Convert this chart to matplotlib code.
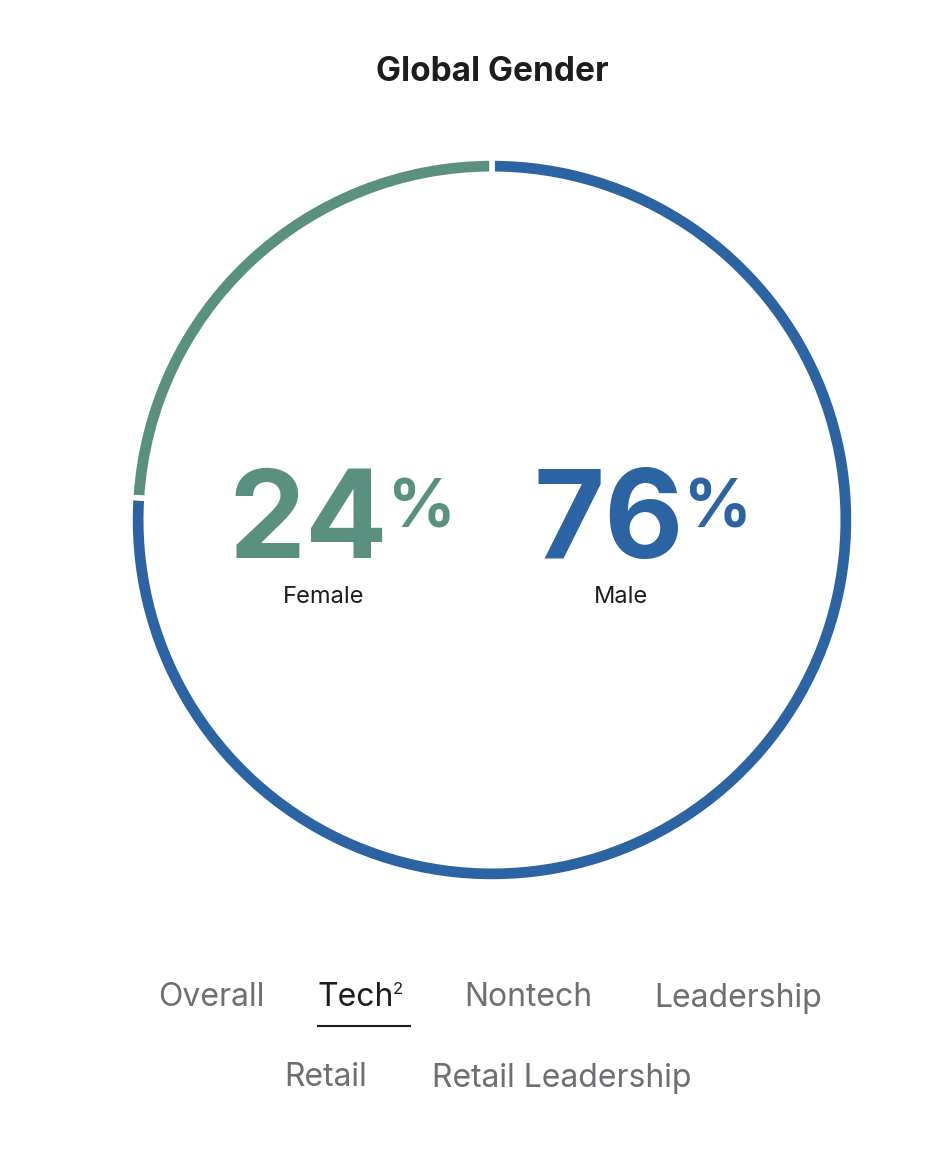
import matplotlib.pyplot as plt

W, H = 948, 1160
labels = ['Male', 'Female']
values = [76, 24]
colors = ['#2c64a3', '#5a9080']
tabs_row1 = ['Overall', 'Tech', 'Nontech', 'Leadership']
tabs_row2 = ['Retail', 'Retail Leadership']

plt.rcParams['font.family'] = ['Inter', 'DejaVu Sans']
fig = plt.figure(figsize=(W / 100, H / 100), dpi=100)

def px(x, y):
    return x / W, 1 - y / H

# ring
cx, cy, r = 492, 520, 362
ax = fig.add_axes([(cx - r) / W, (H - cy - r) / H, 2 * r / W, 2 * r / H])
ax.pie(values, colors=colors, startangle=90, counterclock=False, radius=1,
       wedgeprops=dict(width=0.045, edgecolor='white', linewidth=4))
ax.set_xlim(-1, 1)
ax.set_ylim(-1, 1)
ax.set_aspect('auto')
ax.axis('off')

fig.text(*px(492, 72), 'Global Gender', ha='center', va='center',
         fontsize=24, fontweight='bold', color='#1d1d1f')

# big numbers
fig.text(*px(388, 558), f'{values[1]}', ha='right', va='baseline',
         fontsize=88, fontweight='bold', color=colors[1])
fig.text(*px(388, 527), '%', ha='left', va='baseline',
         fontsize=48, fontweight='bold', color=colors[1])
fig.text(*px(684, 558), f'{values[0]}', ha='right', va='baseline',
         fontsize=88, fontweight='bold', color=colors[0])
fig.text(*px(684, 527), '%', ha='left', va='baseline',
         fontsize=48, fontweight='bold', color=colors[0])
fig.text(*px(324, 597), labels[1], ha='center', va='center', fontsize=17, color='#1d1d1f')
fig.text(*px(621, 597), labels[0], ha='center', va='center', fontsize=17, color='#1d1d1f')

# tabs
row1_x = [211, 356, 528, 738]
for name, x in zip(tabs_row1, row1_x):
    c = '#1d1d1f' if name == 'Tech' else '#6e6e73'
    fig.text(*px(x, 998), name, ha='center', va='center', fontsize=23, color=c)
fig.text(*px(393, 990), '2', ha='left', va='center', fontsize=12, color='#1d1d1f')
fig.add_artist(plt.Line2D([318 / W, 410 / W], [1 - 1026 / H] * 2, color='#1d1d1f', lw=1.5))
row2_x = [326, 562]
for name, x in zip(tabs_row2, row2_x):
    fig.text(*px(x, 1078), name, ha='center', va='center', fontsize=23, color='#6e6e73')

fig.savefig('out.png', dpi=100, facecolor='white')
